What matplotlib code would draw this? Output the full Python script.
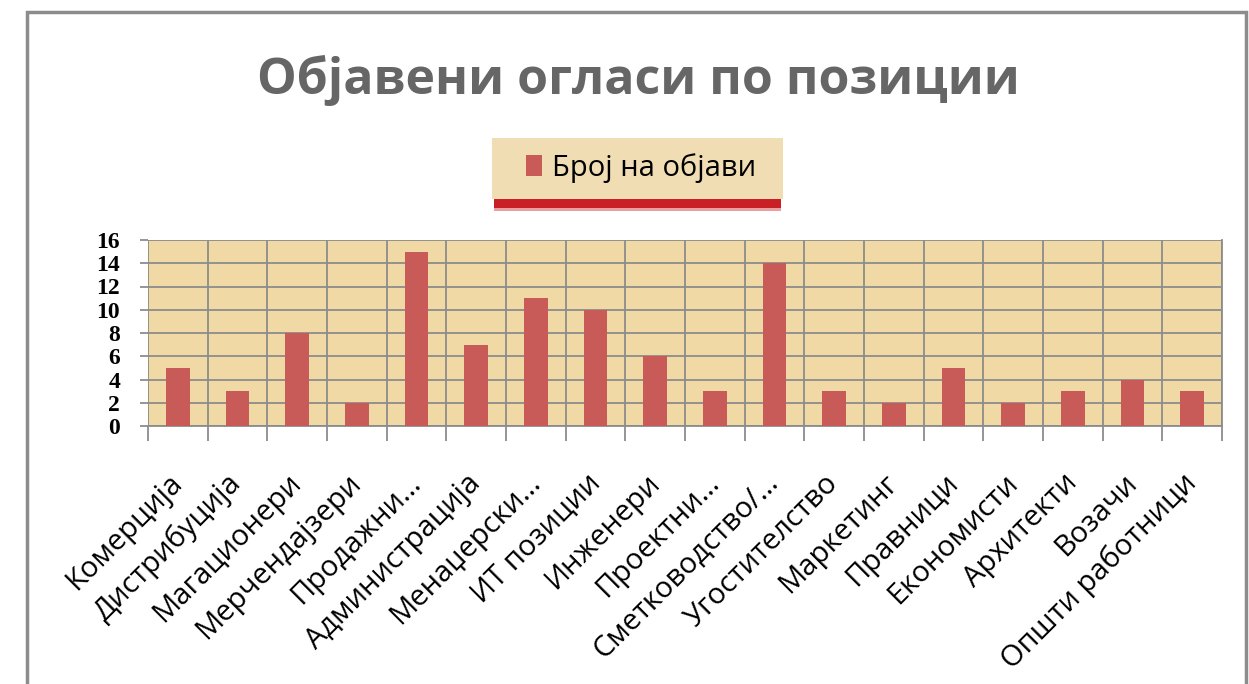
import matplotlib
matplotlib.use('Agg')
import matplotlib.pyplot as plt
import matplotlib.patches as mpatches
import numpy as np

categories = ['Комерција', 'Дистрибуција', 'Магационери', 'Мерчендајзери', 'Продажни…',
              'Администрација', 'Менаџерски…', 'ИТ позиции', 'Инженери', 'Проектни…',
              'Сметководство/…', 'Угостителство', 'Маркетинг', 'Правници', 'Економисти',
              'Архитекти', 'Возачи', 'Општи работници']
counts = [5, 3, 8, 2, 15, 7, 11, 10, 6, 3, 14, 3, 2, 5, 2, 3, 4, 3]
yticks = [0, 2, 4, 6, 8, 10, 12, 14, 16]

plt.rcParams['font.family'] = ['Open Sans', 'DejaVu Sans']

W, H = 1249, 684
fig = plt.figure(figsize=(W / 100, H / 100), dpi=100)

# outer chart border
fig.add_artist(mpatches.Rectangle((27 / W, -0.05), (1246 - 27) / W, 1.05 - 12 / H,
                                  transform=fig.transFigure, fill=False,
                                  edgecolor='#8c8c8c', linewidth=2.5))

ax = fig.add_axes([148 / W, 1 - 426 / H, (1222 - 148) / W, (426 - 240) / H])
ax.set_facecolor('#F1D9A6')

x = np.arange(len(categories))
ax.bar(x, counts, width=0.4, color='#C85A58', zorder=3, label='Број на објави')

ax.set_xlim(-0.5, len(categories) - 0.5)
ax.set_ylim(0, 16)
ax.set_yticks(yticks)
ax.set_yticklabels([str(v) for v in yticks], family='Liberation Serif',
                   fontsize=17, fontweight='bold', color='black')
ax.tick_params(axis='y', length=6, color='#8c8c8c', width=1.3, pad=14)

ax.set_xticks(x)
ax.set_xticklabels(categories, rotation=45, ha='right', va='center',
                   rotation_mode='anchor', fontsize=21)
ax.tick_params(axis='x', which='major', length=0, pad=38)
ax.set_xticks(np.arange(len(categories) + 1) - 0.5, minor=True)
ax.tick_params(axis='x', which='minor', length=11, color='#8c8c8c', width=1.3)

ax.grid(True, axis='y', which='major', color='#8c8c8c', linewidth=1.3, zorder=1)
ax.grid(True, axis='x', which='minor', color='#8c8c8c', linewidth=1.3, zorder=1)
ax.grid(False, axis='x', which='major')
ax.set_axisbelow(True)
for s in ['top', 'left']:
    ax.spines[s].set_visible(False)
ax.spines['right'].set_color('#8c8c8c')
ax.spines['right'].set_linewidth(1.3)
ax.spines['bottom'].set_color('#8c8c8c')
ax.spines['bottom'].set_linewidth(1.3)

fig.text(638 / W, 1 - 80 / H, 'Објавени огласи по позиции', ha='center', va='center',
         fontsize=36, fontweight='bold', color='#666666')

# legend box with red shadow underneath
fig.add_artist(mpatches.Rectangle((494 / W, 1 - 211 / H), (781 - 494) / W, 14 / H,
                                  transform=fig.transFigure, facecolor='#E8A0A0',
                                  edgecolor='none'))
fig.add_artist(mpatches.Rectangle((494 / W, 1 - 208 / H), (781 - 494) / W, 10 / H,
                                  transform=fig.transFigure, facecolor='#C82024',
                                  edgecolor='none'))
fig.add_artist(mpatches.Rectangle((492 / W, 1 - 199 / H), (783 - 492) / W, (199 - 138) / H,
                                  transform=fig.transFigure, facecolor='#F0DDB4',
                                  edgecolor='none'))
leg = fig.legend(loc='center', bbox_to_anchor=(641 / W, 1 - 168 / H), frameon=False,
                 fontsize=21, handlelength=0.55, handleheight=0.75, handletextpad=0.35)

plt.savefig('out.png', dpi=100)
